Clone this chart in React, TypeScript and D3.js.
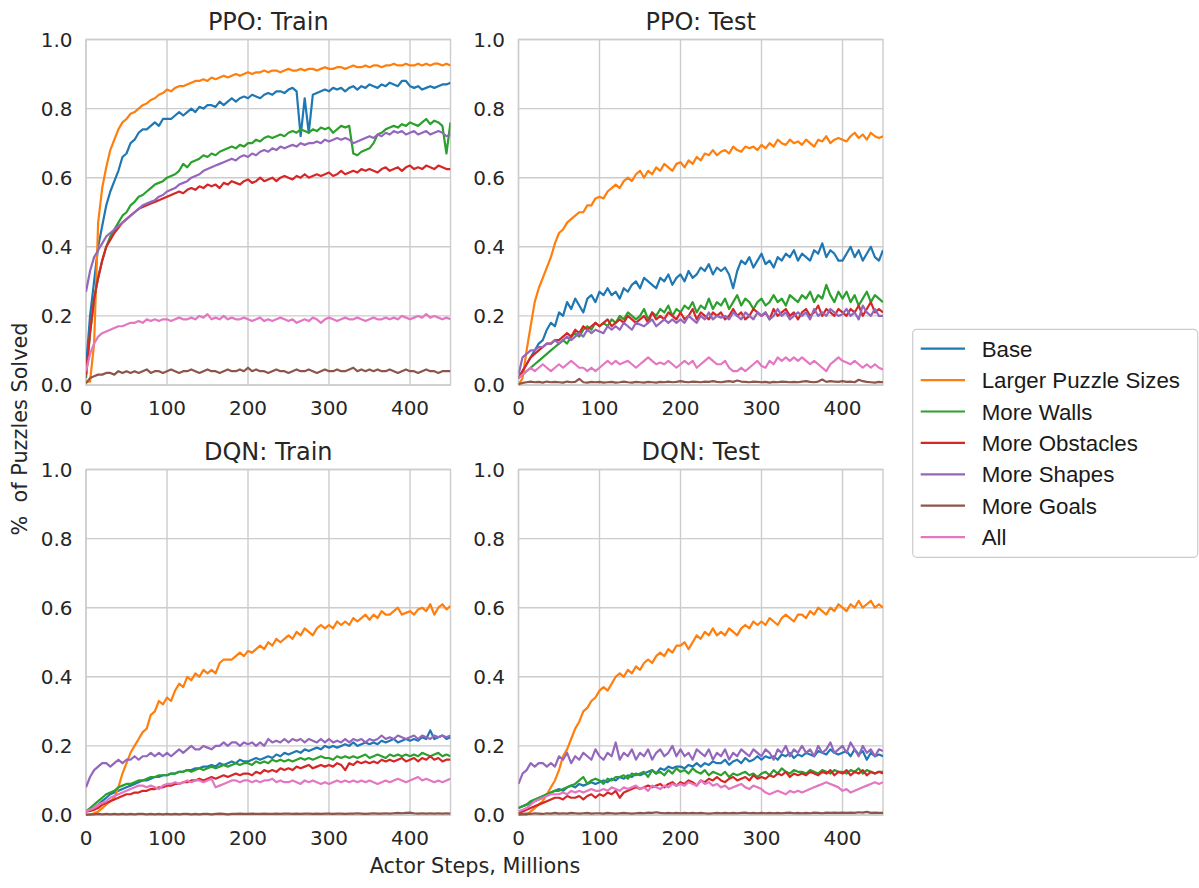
import React from 'react';
import * as d3 from 'd3';

// x positions (Actor Steps, Millions) at which the curves were sampled
const STEPS = d3.range(0, 451, 5);
const SERIES = ['Base', 'Larger Puzzle Sizes', 'More Walls', 'More Obstacles', 'More Shapes', 'More Goals', 'All'];
const COLORS = ['#1f77b4', '#ff7f0e', '#2ca02c', '#d62728', '#9467bd', '#8c564b', '#e377c2'];
const Y_TICKS = [0, 0.2, 0.4, 0.6, 0.8, 1.0];
const X_TICKS = [0, 100, 200, 300, 400];
const TITLES = ['PPO: Train', 'PPO: Test', 'DQN: Train', 'DQN: Test'];

// ---------- PPO: Train ----------
const ppoTrainBase = [
  .05,.20,.30,.40,.46,.52,.56,.59,.62,.66,
  .67,.70,.71,.73,.74,.74,.75,.76,.75,.77,
  .77,.77,.78,.79,.78,.79,.80,.79,.805,.80,
  .81,.81,.805,.82,.81,.82,.83,.82,.83,.835,
  .83,.84,.835,.83,.84,.845,.84,.85,.85,.845,
  .855,.86,.85,.72,.83,.73,.84,.845,.85,.855,
  .85,.86,.855,.86,.85,.86,.865,.855,.865,.86,
  .87,.865,.86,.87,.865,.875,.87,.865,.88,.88,
  .865,.86,.865,.855,.86,.865,.86,.865,.87,.87,
  .875];
const ppoTrainLarger = [
  .01,.01,.12,.47,.57,.63,.68,.71,.74,.76,
  .77,.785,.79,.80,.81,.815,.825,.83,.84,.845,
  .855,.85,.86,.865,.865,.87,.875,.88,.88,.885,
  .88,.89,.885,.89,.895,.89,.895,.90,.895,.90,
  .905,.90,.905,.905,.91,.905,.91,.91,.905,.91,
  .915,.91,.91,.915,.91,.915,.915,.91,.915,.92,
  .915,.915,.92,.92,.915,.92,.925,.92,.92,.925,
  .92,.925,.925,.92,.925,.925,.93,.925,.925,.93,
  .925,.925,.93,.925,.93,.925,.93,.93,.925,.93,
  .925];
const ppoTrainWalls = [
  .02,.15,.25,.31,.36,.40,.43,.45,.47,.49,
  .50,.52,.53,.545,.55,.56,.57,.58,.585,.59,
  .60,.605,.61,.62,.64,.63,.645,.65,.655,.665,
  .66,.67,.665,.675,.68,.685,.69,.685,.695,.69,
  .70,.70,.71,.705,.715,.72,.715,.72,.725,.72,
  .73,.735,.73,.74,.735,.73,.74,.735,.745,.74,
  .745,.73,.74,.75,.745,.75,.67,.665,.675,.68,
  .685,.70,.725,.73,.74,.745,.75,.745,.755,.75,
  .76,.755,.75,.76,.77,.755,.765,.76,.75,.67,
  .76];
const ppoTrainObstacles = [
  .03,.15,.25,.31,.36,.40,.42,.44,.455,.47,
  .48,.49,.50,.51,.515,.52,.525,.53,.535,.54,
  .545,.55,.555,.56,.555,.565,.57,.565,.575,.57,
  .58,.575,.58,.57,.585,.58,.59,.585,.58,.59,
  .595,.585,.59,.60,.59,.595,.60,.59,.60,.605,
  .60,.595,.605,.60,.61,.60,.605,.61,.605,.61,
  .615,.605,.61,.62,.61,.615,.62,.615,.625,.62,
  .625,.62,.615,.625,.63,.62,.625,.63,.62,.63,
  .635,.625,.63,.625,.635,.63,.625,.635,.63,.625,
  .625];
const ppoTrainShapes = [
  .27,.33,.37,.39,.41,.43,.44,.45,.46,.47,
  .48,.49,.50,.51,.52,.525,.53,.535,.545,.55,
  .56,.565,.57,.58,.585,.59,.60,.605,.61,.62,
  .625,.63,.635,.64,.645,.65,.655,.65,.66,.665,
  .66,.67,.665,.675,.68,.675,.685,.68,.69,.685,
  .69,.695,.69,.70,.695,.70,.70,.705,.70,.71,
  .705,.71,.715,.71,.715,.71,.70,.705,.71,.715,
  .72,.715,.725,.72,.73,.725,.735,.73,.735,.725,
  .73,.735,.725,.73,.735,.725,.73,.735,.73,.72,
  .725];
const ppoTrainGoals = [
  .005,.02,.025,.03,.03,.035,.035,.03,.04,.035,
  .04,.035,.04,.035,.04,.045,.035,.04,.04,.035,
  .04,.045,.04,.035,.04,.04,.045,.04,.035,.04,
  .045,.04,.04,.035,.04,.045,.04,.04,.045,.04,
  .05,.04,.045,.04,.04,.035,.04,.045,.04,.04,
  .035,.04,.045,.04,.04,.045,.04,.035,.04,.045,
  .04,.04,.045,.04,.04,.045,.05,.04,.045,.04,
  .045,.04,.045,.04,.04,.045,.04,.035,.04,.045,
  .04,.04,.035,.04,.045,.04,.04,.035,.04,.04,
  .04];
const ppoTrainAll = [
  .04,.09,.12,.14,.15,.155,.16,.165,.17,.17,
  .175,.18,.18,.185,.18,.19,.185,.19,.185,.19,
  .19,.185,.19,.195,.19,.19,.195,.19,.20,.195,
  .205,.19,.195,.19,.20,.19,.195,.19,.19,.195,
  .19,.185,.19,.195,.185,.19,.185,.19,.195,.19,
  .185,.19,.18,.185,.19,.185,.195,.19,.18,.19,
  .195,.19,.185,.19,.195,.19,.19,.195,.19,.185,
  .19,.195,.19,.19,.195,.19,.195,.19,.20,.195,
  .19,.195,.20,.195,.205,.195,.20,.195,.19,.195,
  .19];

// ---------- PPO: Test ----------
const ppoTestBase = [
  .02,.04,.06,.08,.10,.12,.13,.16,.18,.17,
  .21,.20,.24,.22,.25,.23,.21,.25,.26,.24,
  .27,.26,.28,.26,.27,.25,.28,.27,.29,.30,
  .28,.31,.30,.29,.28,.31,.30,.32,.29,.31,
  .32,.30,.33,.31,.32,.34,.33,.35,.32,.34,
  .33,.34,.32,.28,.33,.36,.35,.37,.34,.36,
  .38,.35,.36,.34,.37,.36,.38,.37,.39,.36,
  .38,.37,.36,.39,.38,.41,.37,.39,.38,.36,
  .36,.38,.40,.37,.39,.36,.38,.40,.37,.36,
  .39];
const ppoTestLarger = [
  .00,.02,.10,.17,.24,.28,.31,.34,.37,.41,
  .44,.45,.47,.48,.49,.50,.50,.52,.52,.54,
  .545,.54,.56,.57,.58,.57,.59,.60,.59,.61,
  .62,.60,.62,.61,.63,.62,.64,.63,.62,.64,
  .645,.63,.65,.64,.66,.65,.67,.665,.68,.665,
  .675,.68,.67,.69,.68,.675,.69,.685,.69,.68,
  .695,.685,.70,.69,.71,.70,.695,.71,.70,.705,
  .695,.71,.70,.69,.71,.705,.72,.70,.71,.715,
  .71,.705,.72,.73,.715,.725,.71,.73,.72,.715,
  .72];
const ppoTestWalls = [
  .02,.03,.04,.05,.06,.07,.08,.09,.10,.11,
  .12,.13,.12,.14,.15,.14,.16,.17,.16,.18,
  .17,.18,.17,.19,.18,.20,.19,.21,.20,.19,
  .20,.22,.19,.21,.20,.22,.21,.23,.20,.22,
  .21,.23,.22,.24,.21,.23,.22,.25,.22,.24,
  .23,.25,.22,.24,.26,.23,.25,.24,.22,.24,
  .25,.23,.24,.26,.24,.25,.23,.26,.25,.24,
  .26,.25,.27,.24,.26,.25,.29,.26,.24,.27,
  .25,.27,.24,.26,.23,.25,.27,.24,.26,.25,
  .24];
const ppoTestObstacles = [
  .02,.04,.06,.08,.09,.10,.11,.12,.12,.13,
  .13,.14,.15,.14,.16,.15,.17,.16,.17,.18,
  .17,.18,.19,.17,.18,.19,.18,.20,.19,.18,
  .19,.20,.18,.21,.19,.20,.19,.21,.20,.19,
  .21,.19,.20,.22,.19,.21,.20,.19,.21,.20,
  .21,.19,.20,.22,.20,.21,.19,.20,.22,.21,
  .20,.21,.19,.22,.20,.21,.22,.20,.21,.19,
  .21,.22,.20,.21,.23,.20,.22,.21,.20,.22,
  .21,.20,.22,.21,.23,.20,.22,.24,.21,.22,
  .21];
const ppoTestShapes = [
  .03,.08,.09,.10,.10,.11,.11,.12,.12,.13,
  .12,.13,.14,.13,.14,.15,.14,.16,.15,.16,
  .155,.15,.17,.16,.17,.16,.18,.17,.16,.18,
  .175,.17,.18,.19,.17,.18,.19,.18,.19,.18,
  .19,.18,.20,.19,.18,.20,.19,.21,.19,.20,
  .195,.20,.19,.21,.20,.19,.21,.20,.19,.21,
  .20,.21,.19,.20,.22,.20,.21,.19,.20,.21,
  .20,.21,.19,.22,.20,.21,.20,.22,.21,.20,
  .205,.22,.20,.21,.19,.23,.21,.20,.22,.20,
  .20];
const ppoTestGoals = [
  .002,.006,.008,.01,.008,.009,.007,.01,.008,.009,
  .008,.007,.01,.008,.009,.018,.008,.007,.009,.008,
  .009,.007,.008,.009,.007,.008,.01,.008,.007,.009,
  .008,.007,.009,.008,.007,.009,.008,.01,.008,.009,
  .011,.009,.008,.01,.009,.008,.01,.009,.011,.009,
  .008,.01,.011,.009,.013,.01,.009,.008,.01,.009,
  .008,.009,.007,.009,.008,.01,.009,.008,.009,.008,
  .01,.011,.009,.008,.01,.016,.009,.011,.01,.009,
  .011,.009,.01,.008,.015,.011,.009,.008,.007,.009,
  .008];
const ppoTestAll = [
  .02,.03,.04,.05,.04,.05,.06,.05,.04,.05,
  .06,.05,.06,.07,.06,.05,.05,.04,.05,.04,
  .05,.06,.07,.06,.07,.06,.065,.07,.06,.05,
  .06,.07,.08,.07,.06,.065,.06,.07,.06,.05,
  .06,.07,.06,.07,.05,.06,.07,.08,.07,.06,
  .06,.07,.05,.04,.04,.05,.04,.05,.06,.07,
  .055,.05,.07,.06,.08,.07,.08,.07,.08,.07,
  .08,.07,.06,.07,.06,.05,.04,.06,.07,.08,
  .07,.065,.06,.07,.06,.05,.06,.05,.06,.05,
  .045];

// ---------- DQN: Train ----------
const dqnTrainBase = [
  .01,.015,.02,.03,.04,.05,.06,.065,.07,.075,
  .08,.085,.09,.095,.10,.10,.105,.11,.11,.115,
  .115,.12,.12,.125,.125,.13,.13,.135,.135,.14,
  .14,.145,.14,.15,.145,.15,.155,.15,.16,.155,
  .155,.16,.165,.16,.165,.17,.165,.175,.17,.18,
  .175,.18,.185,.18,.19,.185,.19,.195,.19,.20,
  .195,.20,.195,.20,.205,.20,.21,.20,.205,.21,
  .205,.21,.205,.215,.21,.215,.22,.21,.215,.22,
  .215,.22,.215,.225,.22,.245,.22,.225,.23,.22,
  .225];
const dqnTrainLarger = [
  .00,.00,.005,.01,.02,.03,.04,.05,.08,.12,
  .15,.18,.20,.22,.24,.25,.29,.30,.33,.32,
  .34,.33,.36,.38,.37,.40,.39,.41,.40,.42,
  .41,.42,.41,.44,.45,.45,.45,.46,.47,.46,
  .475,.47,.48,.49,.48,.50,.49,.51,.50,.51,
  .52,.51,.53,.52,.54,.53,.52,.54,.55,.54,
  .55,.54,.56,.55,.56,.55,.57,.56,.57,.58,
  .565,.58,.57,.59,.58,.58,.59,.60,.58,.585,
  .59,.58,.595,.60,.59,.61,.58,.60,.61,.595,
  .605];
const dqnTrainWalls = [
  .01,.02,.03,.04,.05,.06,.065,.07,.08,.085,
  .09,.09,.095,.10,.10,.105,.11,.11,.115,.115,
  .115,.12,.12,.125,.125,.13,.125,.13,.135,.13,
  .135,.14,.135,.14,.145,.14,.145,.15,.145,.15,
  .15,.145,.155,.15,.155,.15,.16,.155,.16,.155,
  .16,.155,.16,.165,.16,.165,.16,.165,.17,.165,
  .165,.16,.17,.165,.17,.165,.17,.165,.17,.175,
  .165,.17,.175,.17,.165,.175,.17,.175,.17,.175,
  .17,.175,.17,.18,.175,.17,.175,.18,.17,.175,
  .17];
const dqnTrainObstacles = [
  .01,.012,.015,.02,.03,.035,.04,.045,.05,.055,
  .06,.06,.065,.065,.07,.07,.075,.075,.08,.08,
  .085,.085,.09,.09,.095,.095,.10,.10,.105,.10,
  .105,.11,.105,.11,.115,.11,.115,.12,.115,.12,
  .12,.115,.125,.12,.13,.125,.13,.125,.135,.13,
  .135,.13,.14,.135,.14,.145,.135,.14,.145,.14,
  .145,.14,.15,.145,.13,.15,.145,.155,.15,.155,
  .15,.155,.15,.16,.155,.16,.155,.16,.165,.155,
  .16,.165,.155,.165,.16,.17,.16,.165,.155,.16,
  .16];
const dqnTrainShapes = [
  .08,.11,.13,.14,.15,.15,.14,.15,.16,.15,
  .16,.16,.17,.16,.17,.17,.18,.17,.18,.17,
  .18,.17,.18,.19,.18,.19,.20,.19,.19,.20,
  .195,.19,.20,.20,.21,.20,.21,.21,.20,.21,
  .205,.21,.20,.21,.20,.22,.21,.215,.21,.22,
  .21,.22,.215,.22,.21,.22,.215,.21,.22,.21,
  .22,.21,.215,.21,.22,.21,.22,.215,.22,.21,
  .22,.215,.22,.23,.22,.225,.22,.23,.225,.22,
  .225,.23,.22,.23,.225,.22,.23,.225,.23,.225,
  .23];
const dqnTrainGoals = [
  .001,.002,.002,.003,.002,.003,.002,.003,.002,.003,
  .002,.003,.002,.003,.003,.002,.003,.002,.003,.002,
  .003,.002,.003,.002,.003,.003,.002,.003,.002,.003,
  .003,.002,.003,.004,.003,.002,.003,.003,.004,.003,
  .003,.004,.003,.003,.004,.003,.003,.004,.003,.004,
  .004,.003,.004,.003,.004,.004,.003,.004,.003,.004,
  .004,.003,.004,.004,.003,.004,.004,.005,.004,.003,
  .004,.005,.004,.004,.005,.004,.005,.006,.005,.006,
  .007,.005,.004,.005,.004,.005,.004,.005,.004,.005,
  .004];
const dqnTrainAll = [
  .01,.015,.02,.03,.035,.04,.05,.055,.06,.065,
  .07,.075,.08,.085,.085,.08,.085,.08,.075,.085,
  .09,.09,.095,.09,.095,.10,.095,.10,.10,.095,
  .10,.105,.08,.085,.09,.095,.10,.10,.095,.10,
  .10,.095,.10,.095,.10,.10,.105,.095,.10,.095,
  .095,.10,.095,.09,.10,.095,.10,.095,.09,.095,
  .09,.095,.10,.095,.10,.095,.10,.095,.10,.095,
  .10,.095,.09,.095,.10,.095,.10,.105,.10,.095,
  .10,.105,.11,.10,.105,.10,.095,.10,.095,.10,
  .105];

// ---------- DQN: Test ----------
const dqnTestBase = [
  .02,.025,.03,.035,.04,.045,.05,.06,.065,.07,
  .075,.07,.08,.085,.08,.09,.085,.09,.095,.09,
  .095,.10,.095,.105,.10,.11,.105,.115,.11,.12,
  .115,.12,.125,.13,.12,.135,.13,.14,.135,.14,
  .14,.135,.145,.14,.15,.14,.15,.145,.155,.15,
  .15,.16,.145,.155,.16,.15,.165,.155,.16,.17,
  .16,.17,.165,.17,.16,.175,.17,.18,.165,.175,
  .17,.18,.175,.17,.185,.18,.175,.19,.18,.175,
  .18,.185,.17,.19,.175,.185,.16,.18,.17,.175,
  .17];
const dqnTestLarger = [
  .00,.00,.00,.01,.02,.03,.04,.06,.08,.10,
  .13,.17,.19,.22,.25,.27,.30,.31,.33,.34,
  .36,.37,.36,.38,.40,.41,.40,.42,.41,.43,
  .42,.44,.45,.44,.46,.47,.46,.48,.47,.49,
  .49,.50,.48,.50,.52,.51,.53,.52,.54,.52,
  .53,.52,.54,.53,.52,.54,.55,.54,.56,.55,
  .56,.55,.57,.56,.55,.57,.58,.57,.56,.58,
  .58,.57,.59,.58,.60,.59,.58,.60,.59,.61,
  .60,.59,.61,.60,.62,.60,.61,.62,.60,.61,
  .60];
const dqnTestWalls = [
  .02,.025,.03,.04,.045,.05,.055,.06,.065,.07,
  .07,.075,.08,.085,.09,.10,.11,.09,.10,.105,
  .10,.09,.105,.10,.11,.11,.115,.105,.12,.115,
  .12,.125,.11,.13,.12,.125,.115,.13,.12,.135,
  .125,.13,.12,.135,.125,.12,.13,.115,.125,.12,
  .115,.125,.11,.12,.115,.12,.125,.115,.12,.11,
  .12,.125,.115,.13,.12,.135,.125,.12,.13,.125,
  .125,.12,.13,.125,.12,.13,.125,.12,.13,.125,
  .125,.12,.13,.125,.135,.12,.13,.125,.12,.125,
  .125];
const dqnTestObstacles = [
  .005,.01,.015,.02,.025,.03,.035,.04,.045,.05,
  .05,.045,.055,.05,.05,.055,.045,.055,.06,.05,
  .06,.055,.065,.06,.07,.05,.065,.07,.075,.08,
  .075,.08,.085,.08,.085,.09,.08,.09,.095,.085,
  .095,.09,.10,.095,.085,.10,.095,.105,.10,.11,
  .10,.095,.105,.11,.10,.105,.11,.10,.115,.105,
  .11,.105,.115,.11,.12,.115,.125,.11,.12,.115,
  .12,.115,.125,.12,.115,.125,.12,.13,.115,.125,
  .12,.13,.115,.125,.12,.13,.115,.125,.12,.125,
  .12];
const dqnTestShapes = [
  .09,.12,.13,.15,.14,.15,.15,.14,.15,.14,
  .17,.16,.18,.15,.17,.16,.18,.17,.16,.19,
  .17,.16,.18,.17,.21,.16,.18,.17,.19,.16,
  .18,.17,.19,.16,.18,.19,.17,.18,.20,.17,
  .19,.17,.18,.16,.19,.18,.17,.19,.16,.18,
  .17,.19,.16,.18,.17,.19,.18,.17,.19,.18,
  .17,.19,.18,.16,.19,.18,.20,.17,.19,.18,
  .20,.18,.19,.17,.20,.18,.19,.21,.18,.19,
  .20,.18,.21,.19,.17,.20,.18,.19,.17,.19,
  .185];
const dqnTestGoals = [
  .002,.003,.004,.003,.005,.004,.003,.005,.004,.006,
  .004,.005,.004,.006,.005,.004,.005,.006,.004,.005,
  .005,.004,.006,.005,.004,.005,.006,.005,.004,.005,
  .006,.005,.007,.006,.008,.006,.005,.006,.005,.006,
  .005,.006,.005,.006,.005,.006,.005,.004,.005,.006,
  .005,.006,.005,.006,.005,.006,.007,.005,.006,.005,
  .006,.005,.006,.005,.006,.005,.006,.007,.005,.006,
  .005,.006,.005,.007,.006,.005,.007,.006,.007,.006,
  .007,.006,.007,.006,.008,.007,.009,.006,.007,.006,
  .006];
const dqnTestAll = [
  .01,.015,.02,.03,.04,.045,.05,.055,.06,.06,
  .06,.065,.06,.07,.065,.07,.065,.07,.075,.07,
  .07,.075,.07,.08,.075,.07,.08,.075,.08,.085,
  .075,.08,.07,.085,.08,.075,.085,.08,.09,.085,
  .09,.085,.095,.09,.085,.10,.09,.095,.085,.09,
  .08,.085,.075,.08,.085,.09,.08,.075,.085,.08,
  .075,.065,.06,.065,.07,.065,.06,.07,.065,.07,
  .065,.07,.075,.08,.085,.09,.095,.09,.085,.08,
  .07,.075,.065,.07,.075,.08,.085,.09,.095,.09,
  .095];

const PANEL_DATA = [
  [ppoTrainBase, ppoTrainLarger, ppoTrainWalls, ppoTrainObstacles, ppoTrainShapes, ppoTrainGoals, ppoTrainAll],
  [ppoTestBase, ppoTestLarger, ppoTestWalls, ppoTestObstacles, ppoTestShapes, ppoTestGoals, ppoTestAll],
  [dqnTrainBase, dqnTrainLarger, dqnTrainWalls, dqnTrainObstacles, dqnTrainShapes, dqnTrainGoals, dqnTrainAll],
  [dqnTestBase, dqnTestLarger, dqnTestWalls, dqnTestObstacles, dqnTestShapes, dqnTestGoals, dqnTestAll],
];

const W = 1199;
const H = 888;
const PW = 364.5;
const PH = 345.5;
const COL_X = [86, 518.5];
const ROW_Y = [39.5, 469.5];
const GRID = '#cccccc';
const TEXT = '#262626';
const FONT = '"DejaVu Sans", sans-serif';

function Panel({ idx }: { idx: number }) {
  const x0 = COL_X[idx % 2];
  const y0 = ROW_Y[Math.floor(idx / 2)];
  const x = d3.scaleLinear().domain([0, 450]).range([x0, x0 + PW]);
  const y = d3.scaleLinear().domain([0, 1]).range([y0 + PH, y0]);
  const clipId = `clip${idx}`;
  return (
    <g>
      <defs>
        <clipPath id={clipId}>
          <rect x={x0} y={y0 - 2} width={PW} height={PH + 4} />
        </clipPath>
      </defs>
      {Y_TICKS.map((t) => (
        <line key={'gy' + t} x1={x0} x2={x0 + PW} y1={y(t)} y2={y(t)} stroke={GRID} strokeWidth={1.4} />
      ))}
      {X_TICKS.map((t) => (
        <line key={'gx' + t} x1={x(t)} x2={x(t)} y1={y0} y2={y0 + PH} stroke={GRID} strokeWidth={1.4} />
      ))}
      <rect x={x0} y={y0} width={PW} height={PH} fill="none" stroke={GRID} strokeWidth={1.4} />
      <g clipPath={`url(#${clipId})`}>
        {PANEL_DATA[idx].map((vals, si) => {
          const pts = vals.slice(0, STEPS.length).map((v, i) => [STEPS[i], v] as [number, number]);
          const gen = d3.line<[number, number]>().x((d) => x(d[0])).y((d) => y(d[1]));
          return (
            <path key={si} d={gen(pts) || ''} fill="none" stroke={COLORS[si]} strokeWidth={2.2}
              strokeLinejoin="round" strokeLinecap="butt" />
          );
        })}
      </g>
      {Y_TICKS.map((t) => (
        <text key={'ty' + t} x={x0 - 13.5} y={y(t)} dy="0.36em" textAnchor="end" fontSize={20}
          fontFamily={FONT} fill={TEXT}>{t.toFixed(1)}</text>
      ))}
      {X_TICKS.map((t) => (
        <text key={'tx' + t} x={x(t)} y={y0 + PH + 30} textAnchor="middle" fontSize={20}
          fontFamily={FONT} fill={TEXT}>{t}</text>
      ))}
      <text x={x0 + PW / 2} y={y0 - 9.5} textAnchor="middle" fontSize={24} fontFamily={FONT} fill={TEXT}>
        {TITLES[idx]}
      </text>
    </g>
  );
}

function Legend() {
  const lx = 912.7;
  const ly = 329.3;
  const rowH = 31.4;
  return (
    <g>
      <rect x={lx} y={ly} width={285} height={228} rx={4} ry={4} fill="#ffffff" stroke="#cccccc" strokeWidth={1.2} />
      {SERIES.map((s, i) => {
        const cy = 348.7 + i * rowH;
        return (
          <g key={s}>
            <line x1={920.7} x2={965} y1={cy} y2={cy} stroke={COLORS[i]} strokeWidth={2.2} />
            <text x={981.7} y={cy} dy="0.36em" fontSize={22.3}
              fontFamily='"Liberation Sans", Arial, sans-serif' fill="#1a1a1a">{s}</text>
          </g>
        );
      })}
    </g>
  );
}

export default function App() {
  return (
    <svg width={W} height={H} viewBox={`0 0 ${W} ${H}`}
      style={{ position: 'absolute', left: 0, top: 0, background: '#ffffff' }}>
      <rect x={0} y={0} width={W} height={H} fill="#ffffff" />
      {[0, 1, 2, 3].map((i) => <Panel key={i} idx={i} />)}
      <text transform="translate(27,429) rotate(-90)" textAnchor="middle" fontSize={20.8}
        fontFamily={FONT} fill={TEXT} style={{ whiteSpace: 'pre' }}>{'%  of Puzzles Solved'}</text>
      <text x={475} y={873} textAnchor="middle" fontSize={20.8} fontFamily={FONT} fill={TEXT}>
        Actor Steps, Millions
      </text>
      <Legend />
    </svg>
  );
}
